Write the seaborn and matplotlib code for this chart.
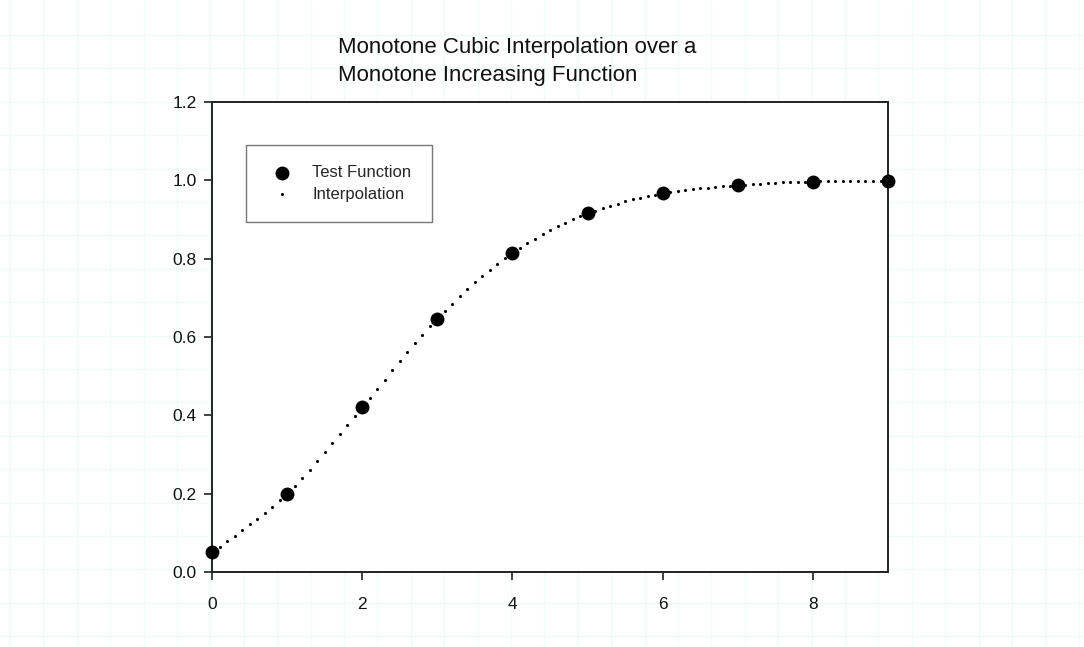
import numpy as np
import pandas as pd
import matplotlib
matplotlib.use("Agg")
import matplotlib.pyplot as plt
import seaborn as sns

# Sample values of the test function
x_points = [0, 1, 2, 3, 4, 5, 6, 7, 8, 9]
y_points = [0.05, 0.20, 0.422, 0.647, 0.815, 0.916, 0.967, 0.988, 0.997, 0.999]

title_lines = ["Monotone Cubic Interpolation over a", "Monotone Increasing Function"]
x_ticks = [0, 2, 4, 6, 8]
y_ticks = [0.0, 0.2, 0.4, 0.6, 0.8, 1.0, 1.2]


def monotone_cubic(x, y, xq):
    """Fritsch-Carlson monotone cubic Hermite interpolation."""
    x = np.asarray(x, float)
    y = np.asarray(y, float)
    h = np.diff(x)
    delta = np.diff(y) / h
    n = len(x)
    m = np.zeros(n)
    for k in range(1, n - 1):
        if delta[k - 1] * delta[k] <= 0:
            m[k] = 0.0
        else:
            w1 = 2 * h[k] + h[k - 1]
            w2 = h[k] + 2 * h[k - 1]
            m[k] = (w1 + w2) / (w1 / delta[k - 1] + w2 / delta[k])
    m[0] = delta[0]
    m[-1] = delta[-1]
    idx = np.clip(np.searchsorted(x, xq, side="right") - 1, 0, n - 2)
    t = (xq - x[idx]) / h[idx]
    h00 = 2 * t**3 - 3 * t**2 + 1
    h10 = t**3 - 2 * t**2 + t
    h01 = -2 * t**3 + 3 * t**2
    h11 = t**3 - t**2
    return (h00 * y[idx] + h10 * h[idx] * m[idx]
            + h01 * y[idx + 1] + h11 * h[idx] * m[idx + 1])


x_fine = np.linspace(x_points[0], x_points[-1], 91)
y_fine = monotone_cubic(x_points, y_points, x_fine)

test_df = pd.DataFrame({"x": x_points, "y": y_points})
interp_df = pd.DataFrame({"x": x_fine, "y": y_fine})

sns.set_theme(style="white")
plt.rcParams["font.family"] = ["Liberation Sans", "DejaVu Sans"]

fig = plt.figure(figsize=(10.84, 6.47), dpi=100)
fig.patch.set_facecolor("white")

# faint graph-paper background across the page
bg = fig.add_axes([0, 0, 1, 1], zorder=-10)
bg.set_xlim(0, 1084)
bg.set_ylim(647, 0)
bg.set_xticks(np.arange(10, 1084, 33.4))
bg.set_yticks(np.arange(35, 647, 33.4))
bg.grid(True, color="#f1fafa", linewidth=1.0)
bg.tick_params(length=0, labelbottom=False, labelleft=False)
for s in bg.spines.values():
    s.set_visible(False)

ax = fig.add_axes([0.1956, 0.1159, 0.6236, 0.7264])
ax.set_facecolor("white")

sns.scatterplot(data=interp_df, x="x", y="y", ax=ax, color="black",
                s=5, linewidth=0, marker="o", label="Interpolation",
                zorder=3, clip_on=False)
sns.scatterplot(data=test_df, x="x", y="y", ax=ax, color="black",
                s=100, linewidth=0, marker="o", label="Test Function",
                zorder=4, clip_on=False)

ax.set_xlim(0, 9)
ax.set_ylim(0, 1.2)
ax.set_xticks(x_ticks)
ax.set_xticklabels([str(v) for v in x_ticks])
ax.set_yticks(y_ticks)
ax.set_yticklabels([f"{v:.1f}" for v in y_ticks])
ax.set_xlabel("")
ax.set_ylabel("")

for s in ax.spines.values():
    s.set_visible(True)
    s.set_color("#222222")
    s.set_linewidth(1.4)

ax.tick_params(axis="both", direction="out", length=6, width=1.2,
               color="#222222", labelsize=12.5, labelcolor="#111111",
               bottom=True, left=True, pad=5)
ax.tick_params(axis="x", pad=12)

handles, labels = ax.get_legend_handles_labels()
order = [labels.index("Test Function"), labels.index("Interpolation")]
leg = ax.legend([handles[i] for i in order], [labels[i] for i in order],
                loc="upper left", bbox_to_anchor=(0.05, 0.9085),
                borderaxespad=0, frameon=True, fancybox=False,
                edgecolor="#555555", fontsize=12, handletextpad=0.9,
                borderpad=1.2, labelspacing=0.4, handlelength=1.9)
leg.get_frame().set_linewidth(1.0)

fig.text(0.312, 0.943, "\n".join(title_lines), ha="left", va="top",
         fontsize=16, linespacing=1.45, color="#111111")

fig.savefig("out.png", dpi=100, facecolor="white")
